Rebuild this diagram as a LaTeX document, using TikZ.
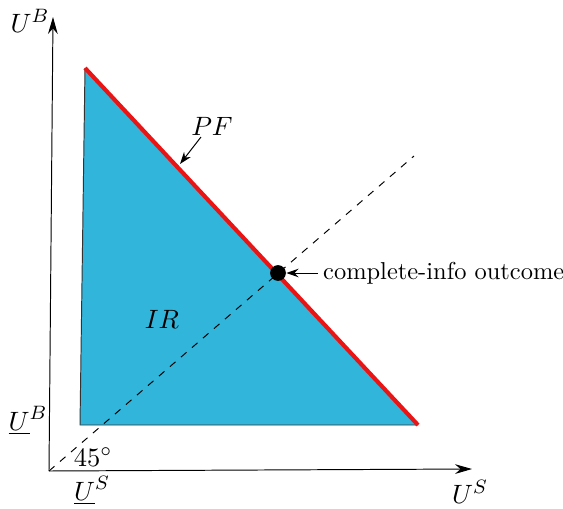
\documentclass[tikz,border=0pt]{standalone}
\usepackage{tikz}
\usetikzlibrary{arrows.meta, positioning}
\definecolor{irblue}{RGB}{49, 181, 219}
\definecolor{pfred}{RGB}{235, 20, 20}

\begin{document}
\begin{tikzpicture}[
          x=0.413pt, y=-0.413pt,
          axis/.style={-{Stealth[length=7pt, width=4pt]}, thin},
          ptr/.style={-{Stealth[length=5pt, width=3.5pt]}, thin},
          lbl/.style={inner sep=1pt, font=\fontsize{11.2}{13}\selectfont}
        ]
        \useasboundingbox (0,0) rectangle (563,509);
        \coordinate (O)      at (49,471);
        \coordinate (ytop)   at (53,17);
        \coordinate (xend)   at (472,469);
        \coordinate (top)    at (85,68);
        \coordinate (corner) at (80,425);
        \coordinate (right)  at (418,425);
        \coordinate (diag)   at (414,156);
        \coordinate (pfpt)   at (180,164);
        \coordinate (pfs)    at (201,137);
        % individually rational set
        \fill[irblue] (top) -- (corner) -- (right) -- cycle;
        \draw[thin, black!80] (top) -- (corner) -- (right);
        \draw[pfred, line width=1.7pt] (top) -- (right);
        \draw[dashed, thin] (O) -- (diag);
        \draw[axis] (O) -- (ytop);
        \draw[axis] (O) -- (xend);
        \node[circle, fill, inner sep=2.3pt] (ci) at (278,273) {};
        \node[lbl] (UB)  at (30,21)   {$U^B$};
        \node[lbl] (US)  at (470,492) {$U^S$};
        \node[lbl] (uB)  at (28,421)  {$\underline{U}^B$};
        \node[lbl] (uS)  at (92,491)  {$\underline{U}^S$};
        \node[lbl] (deg) at (93,457)  {$45^\circ$};
        \node[lbl] (ir)  at (162,319) {$IR$};
        \node[lbl] (pf)  at (212,126) {$PF$};
        \node[right=13pt of ci, inner sep=2pt, font=\fontsize{10.1}{12}\selectfont] (info) {complete-info outcome};
        \draw[ptr] (pfs) -- (pfpt);
        \draw[ptr] (info.west) -- (ci);
      \end{tikzpicture}
\end{document}
